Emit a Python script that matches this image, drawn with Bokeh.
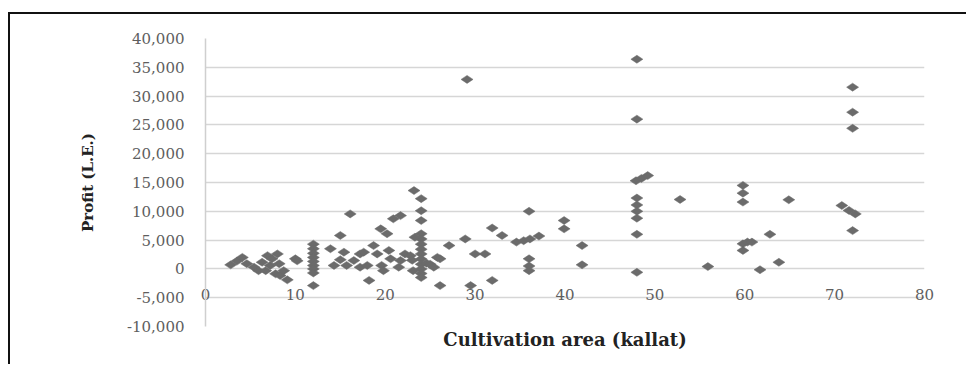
import numpy as np
from bokeh.plotting import figure
from bokeh.models import Range1d, FixedTicker, NumeralTickFormatter, Title, ColumnDataSource
from bokeh.embed import file_html
from bokeh.resources import INLINE

# Cultivation area (kallat)
area = [2.8, 3.5, 4.1, 4.6, 5.4, 5.9, 6.3, 6.7, 6.9, 7.2, 7.4, 8.0, 8.2, 7.8, 8.3, 8.7, 9.1, 10.0, 10.2,
        12, 12, 12, 12, 12, 12, 12, 12, 12,
        13.9, 14.3, 15.0, 15.4, 15.0, 15.7, 16.1, 16.5, 17.2, 17.2, 17.6, 18.0, 18.2, 18.7, 19.1, 19.6, 19.8,
        19.5, 20.2, 20.9, 21.7, 20.4, 20.6, 21.5, 22.2, 22.8, 21.7,
        23.2, 24.0, 24, 24, 24, 24, 24, 24, 24, 24, 24, 24, 24, 24, 23.1, 23.3, 23.0, 24.6, 25.0, 25.4,
        25.8, 26.1, 26.1, 27.1, 28.9, 29.1, 30.0, 31.1, 29.5, 31.9, 31.9, 33.0, 34.6, 35.4, 36.1, 37.1,
        36, 36, 36, 36,
        39.9, 39.9, 41.9, 41.9,
        48, 48, 47.9, 48.5, 49.2, 48, 48, 48, 48, 48, 48,
        52.8, 55.9, 59.8, 59.8, 59.8, 59.8, 60.3, 60.8, 59.8, 61.7, 62.8, 63.8, 64.9,
        72, 72, 72, 70.8, 71.6, 72.3, 72]

# Profit (L.E.)
profit = [700, 1350, 2000, 900, 300, -300, 1150, -300, 2300, 600, 1750, 2600, 900, -850, -1150, -300, -1900, 1750, 1400,
          4300, 3500, 2700, 2000, 1300, 600, 0, -700, -2900,
          3500, 600, 5800, 2900, 1600, 600, 9550, 1450, 2600, 300, 2900, 600, -2000, 4050, 2600, 600, -300,
          6950, 6100, 8700, 9250, 3200, 1750, 300, 2600, 2300, 1450,
          13600, 12200, 10100, 8400, 6100, 5200, 4300, 3400, 2600, 1700, 800, 0, -800, -1500, -300, 5500, 1500, 1000, 800, 300,
          2000, 1750, -2900, 4050, 5200, 32900, 2600, 2600, -2900, -2000, 7100, 5800, 4650, 4900, 5200, 5700,
          10000, 1750, 500, -300,
          8400, 6950, 4050, 700,
          36400, 26000, 15300, 15700, 16200, 12300, 11100, 10000, 8800, 6000, -600,
          12050, 400, 14500, 13150, 11600, 4350, 4650, 4650, 3200, -150, 6000, 1150, 12000,
          31550, 27200, 24400, 11000, 10150, 9550, 6650]

x_ticks = [0, 10, 20, 30, 40, 50, 60, 70, 80]
y_ticks = [-10000, -5000, 0, 5000, 10000, 15000, 20000, 25000, 30000, 35000, 40000]

src = ColumnDataSource(dict(x=area, y=profit))

p = figure(width=958, height=352, output_backend="svg", toolbar_location=None,
           x_range=Range1d(0, 80), y_range=Range1d(-10000, 40000),
           min_border_left=195, min_border_right=44, min_border_top=24, min_border_bottom=40)
p.styles = {"border-top": "2px solid #111", "border-left": "2px solid #111"}
p.margin = (12, 0, 0, 8)
p.outline_line_color = None
p.background_fill_color = "white"

p.scatter("x", "y", source=src, marker="diamond", size=12, angle=np.pi / 2,
          fill_color="#6b6b6b", line_color="#6b6b6b", line_width=0.5)

# y axis
ya = p.yaxis[0]
ya.ticker = FixedTicker(ticks=y_ticks)
ya.formatter = NumeralTickFormatter(format="0,0")
ya.axis_line_color = "#cfcfcf"
ya.axis_line_width = 1.5
ya.major_tick_line_color = None
ya.minor_tick_line_color = None
ya.major_label_text_font = "DejaVu Serif"
ya.major_label_text_font_size = "15px"
ya.major_label_text_color = "#5e5e5e"
ya.major_label_standoff = 15
ya.axis_label = "Profit (L.E.)"
ya.axis_label_text_font = "DejaVu Serif"
ya.axis_label_text_font_style = "bold"
ya.axis_label_text_font_size = "15px"
ya.axis_label_text_color = "#222222"
ya.axis_label_standoff = 27

# x axis: labels drawn up at the level of the zero crossing
xa = p.xaxis[0]
xa.ticker = FixedTicker(ticks=x_ticks)
xa.axis_line_color = None
xa.major_tick_line_color = None
xa.minor_tick_line_color = None
xa.major_tick_out = 0
xa.major_label_text_font = "DejaVu Serif"
xa.major_label_text_font_size = "15px"
xa.major_label_text_color = "#5e5e5e"
xa.major_label_standoff = -38

p.xgrid.grid_line_color = None
p.ygrid.ticker = FixedTicker(ticks=y_ticks)
p.ygrid.grid_line_color = "#d6d6d6"
p.ygrid.grid_line_width = 1.5

p.add_layout(Title(text="Cultivation area (kallat)", align="center",
                   text_font="DejaVu Serif", text_font_style="bold",
                   text_font_size="18px", text_color="#222222", standoff=0), "below")

open("out.html", "w").write(file_html(p, INLINE))
